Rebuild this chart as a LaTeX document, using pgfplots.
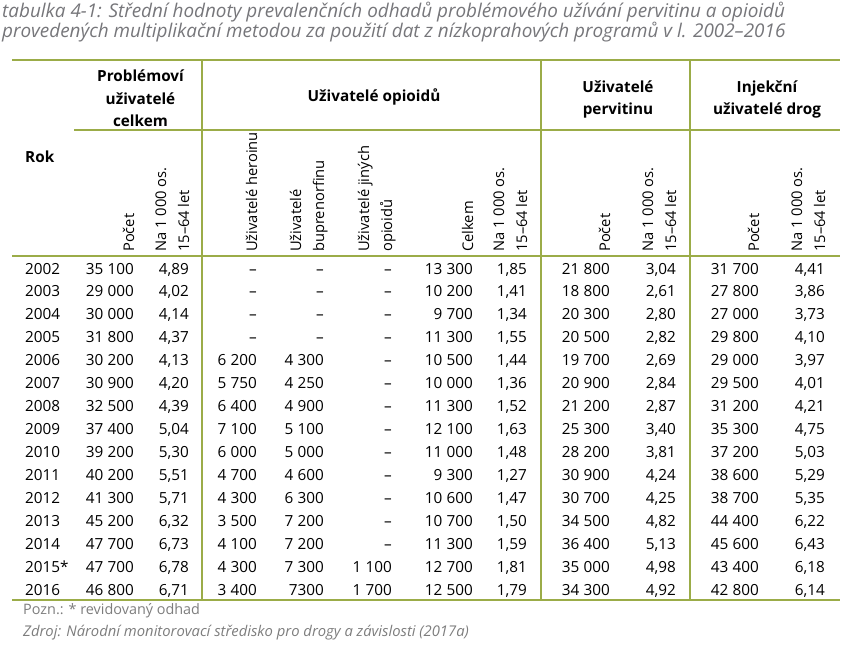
\documentclass[border=0pt]{standalone}
\usepackage{fontspec}
\setmainfont{Open Sans}
\usepackage{pgfplots}
\usepackage{pgfplotstable}
\pgfplotsset{compat=1.18}

\definecolor{rule}{RGB}{155,172,72}
\definecolor{ttl}{RGB}{118,118,122}
\definecolor{note}{RGB}{125,125,125}
\newcommand{\tbl}{\fontsize{15.3bp}{18bp}\selectfont}
\newcommand{\hdr}{\fontsize{14.7bp}{18bp}\selectfont}
\newcommand{\Y}{274+(\thisrow{year}-2002)*22.95}

% hlavni tabulka
\pgfplotstableread{
year lab   pc    pr   oc    or   vc    vr   ic    ir
2002 2002  35100 4.89 13300 1.85 21800 3.04 31700 4.41
2003 2003  29000 4.02 10200 1.41 18800 2.61 27800 3.86
2004 2004  30000 4.14 9700  1.34 20300 2.80 27000 3.73
2005 2005  31800 4.37 11300 1.55 20500 2.82 29800 4.10
2006 2006  30200 4.13 10500 1.44 19700 2.69 29000 3.97
2007 2007  30900 4.20 10000 1.36 20900 2.84 29500 4.01
2008 2008  32500 4.39 11300 1.52 21200 2.87 31200 4.21
2009 2009  37400 5.04 12100 1.63 25300 3.40 35300 4.75
2010 2010  39200 5.30 11000 1.48 28200 3.81 37200 5.03
2011 2011  40200 5.51 9300  1.27 30900 4.24 38600 5.29
2012 2012  41300 5.71 10600 1.47 30700 4.25 38700 5.35
2013 2013  45200 6.32 10700 1.50 34500 4.82 44400 6.22
2014 2014  47700 6.73 11300 1.59 36400 5.13 45600 6.43
2015 2015* 47700 6.78 12700 1.81 35000 4.98 43400 6.18
2016 2016  46800 6.71 12500 1.79 34300 4.92 42800 6.14
}\main

% uzivatele heroinu
\pgfplotstableread{
year her
2006 6200
2007 5750
2008 6400
2009 7100
2010 6000
2011 4700
2012 4300
2013 3500
2014 4100
2015 4300
2016 3400
}\her

% uzivatele buprenorfinu (2016 zvlast, bez mezery)
\pgfplotstableread{
year bup
2006 4300
2007 4250
2008 4900
2009 5100
2010 5000
2011 4600
2012 6300
2013 7200
2014 7200
2015 7300
}\bup

\pgfplotstableread{
year jin
2015 1100
2016 1700
}\jin

% roky bez udaje (pomlcka)
\pgfplotstableread{
year m
2002 0
2003 0
2004 0
2005 0
}\early

\pgfplotstableread{
year m
2002 0
2003 0
2004 0
2005 0
2006 0
2007 0
2008 0
2009 0
2010 0
2011 0
2012 0
2013 0
2014 0
}\nojin

\pgfplotsset{
  cell/.style={draw=none, mark=none, point meta=explicit,
    nodes near coords style={anchor=base east, inner sep=0pt, font=\tbl, text=black}},
  cnt/.style={cell, nodes near coords={\pgfmathprintnumber[fixed,precision=0,1000 sep={\hspace{0.27em}}]{\pgfplotspointmeta}}},
  rate/.style={cell, nodes near coords={\pgfmathprintnumber[fixed,fixed zerofill,precision=2,use comma]{\pgfplotspointmeta}}},
  dash/.style={draw=none, mark=none, nodes near coords={–},
    nodes near coords style={anchor=base east, inner sep=0pt, font=\tbl, text=black}},
  line/.style={rule, line width=2.2bp, mark=none, forget plot},
}

\begin{document}
\begin{tikzpicture}
\begin{axis}[
  width=864bp, height=646bp, scale only axis,
  xmin=0, xmax=864, ymin=0, ymax=646, y dir=reverse,
  hide axis, clip=false,
  /pgf/number format/assume math mode=true,
]
% linky tabulky
\addplot[line] coordinates {(12,60) (840,60)};
\addplot[line] coordinates {(74,130) (840,130)};
\addplot[line] coordinates {(12,256) (840,256)};
\addplot[line] coordinates {(12,600) (840,600)};
\addplot[line, line width=1.8bp] coordinates {(202,60) (202,600)};
\addplot[line, line width=1.8bp] coordinates {(541,60) (541,600)};
\addplot[line, line width=1.8bp] coordinates {(690,60) (690,600)};

% roky
\addplot[draw=none, mark=none, point meta=explicit symbolic,
  nodes near coords={\pgfplotspointmeta},
  nodes near coords style={anchor=base west, inner sep=0pt, font=\tbl, text=black}]
  table[x expr=25, y expr=\Y, meta=lab] {\main};

\addplot[cnt]  table[x expr=134, y expr=\Y, meta=pc] {\main};
\addplot[rate] table[x expr=189, y expr=\Y, meta=pr] {\main};
\addplot[cnt]  table[x expr=257, y expr=\Y, meta=her] {\her};
\addplot[cnt]  table[x expr=324, y expr=\Y, meta=bup] {\bup};
\addplot[cell, nodes near coords={\pgfmathprintnumber[fixed,precision=0,1000 sep={}]{\pgfplotspointmeta}}]
  coordinates {(324,595.3) [7300]};
\addplot[cnt]  table[x expr=392, y expr=\Y, meta=jin] {\jin};
\addplot[cnt]  table[x expr=473, y expr=\Y, meta=oc] {\main};
\addplot[rate] table[x expr=527, y expr=\Y, meta=or] {\main};
\addplot[cnt]  table[x expr=610, y expr=\Y, meta=vc] {\main};
\addplot[rate] table[x expr=676, y expr=\Y, meta=vr] {\main};
\addplot[cnt]  table[x expr=759, y expr=\Y, meta=ic] {\main};
\addplot[rate] table[x expr=825, y expr=\Y, meta=ir] {\main};

\addplot[dash] table[x expr=257, y expr=\Y] {\early};
\addplot[dash] table[x expr=324, y expr=\Y] {\early};
\addplot[dash] table[x expr=392, y expr=\Y] {\nojin};

% nadpis
\node[anchor=base west, inner sep=0pt, font=\fontsize{18.9bp}{22bp}\selectfont\itshape, text=ttl]
  at (axis cs:2,17.5) {tabulka 4-1: Střední hodnoty prevalenčních odhadů problémového užívání pervitinu a opioidů};
\node[anchor=base west, inner sep=0pt, font=\fontsize{18.9bp}{22bp}\selectfont\itshape, text=ttl]
  at (axis cs:2,37.5) {provedených multiplikační metodou za použití dat z nízkoprahových programů v l. 2002–2016};

% hlavicky skupin
\begin{scope}[every node/.style={anchor=base, inner sep=0pt, font=\tbl\bfseries}]
\node at (axis cs:140.5,82) {Problémoví};
\node at (axis cs:140.5,104) {uživatelé};
\node at (axis cs:140.5,126) {celkem};
\node at (axis cs:374,101) {Uživatelé opioidů};
\node at (axis cs:618,92) {Uživatelé};
\node at (axis cs:618,114) {pervitinu};
\node at (axis cs:767,92) {Injekční};
\node at (axis cs:767,114) {uživatelé drog};
\node[anchor=base west] at (axis cs:25,162) {Rok};
\end{scope}

% otocene hlavicky sloupcu
\begin{scope}[every node/.style={rotate=90, anchor=base west, inner sep=0pt, font=\hdr}]
\node at (axis cs:134,252) {Počet};
\node at (axis cs:166,252) {Na 1\hspace{0.27em}000 os.};
\node at (axis cs:189,252) {15–64 let};
\node at (axis cs:257,252) {Uživatelé heroinu};
\node at (axis cs:301,252) {Uživatelé};
\node at (axis cs:324,252) {buprenorfinu};
\node at (axis cs:369,252) {Uživatelé jiných};
\node at (axis cs:392,252) {opioidů};
\node at (axis cs:473,252) {Celkem};
\node at (axis cs:504,252) {Na 1\hspace{0.27em}000 os.};
\node at (axis cs:527,252) {15–64 let};
\node at (axis cs:610,252) {Počet};
\node at (axis cs:653,252) {Na 1\hspace{0.27em}000 os.};
\node at (axis cs:676,252) {15–64 let};
\node at (axis cs:759,252) {Počet};
\node at (axis cs:802,252) {Na 1\hspace{0.27em}000 os.};
\node at (axis cs:825,252) {15–64 let};
\end{scope}

% poznamky
\node[anchor=base west, inner sep=0pt, font=\fontsize{14.4bp}{17bp}\selectfont, text=note]
  at (axis cs:23,614.5) {Pozn.: * revidovaný odhad};
\node[anchor=base west, inner sep=0pt, font=\fontsize{14.8bp}{17bp}\selectfont\itshape, text=note]
  at (axis cs:23,636) {Zdroj: Národní monitorovací středisko pro drogy a závislosti (2017a)};
\end{axis}
\pgfresetboundingbox
\path (0,0) rectangle (864bp,646bp);
\end{tikzpicture}
\end{document}
